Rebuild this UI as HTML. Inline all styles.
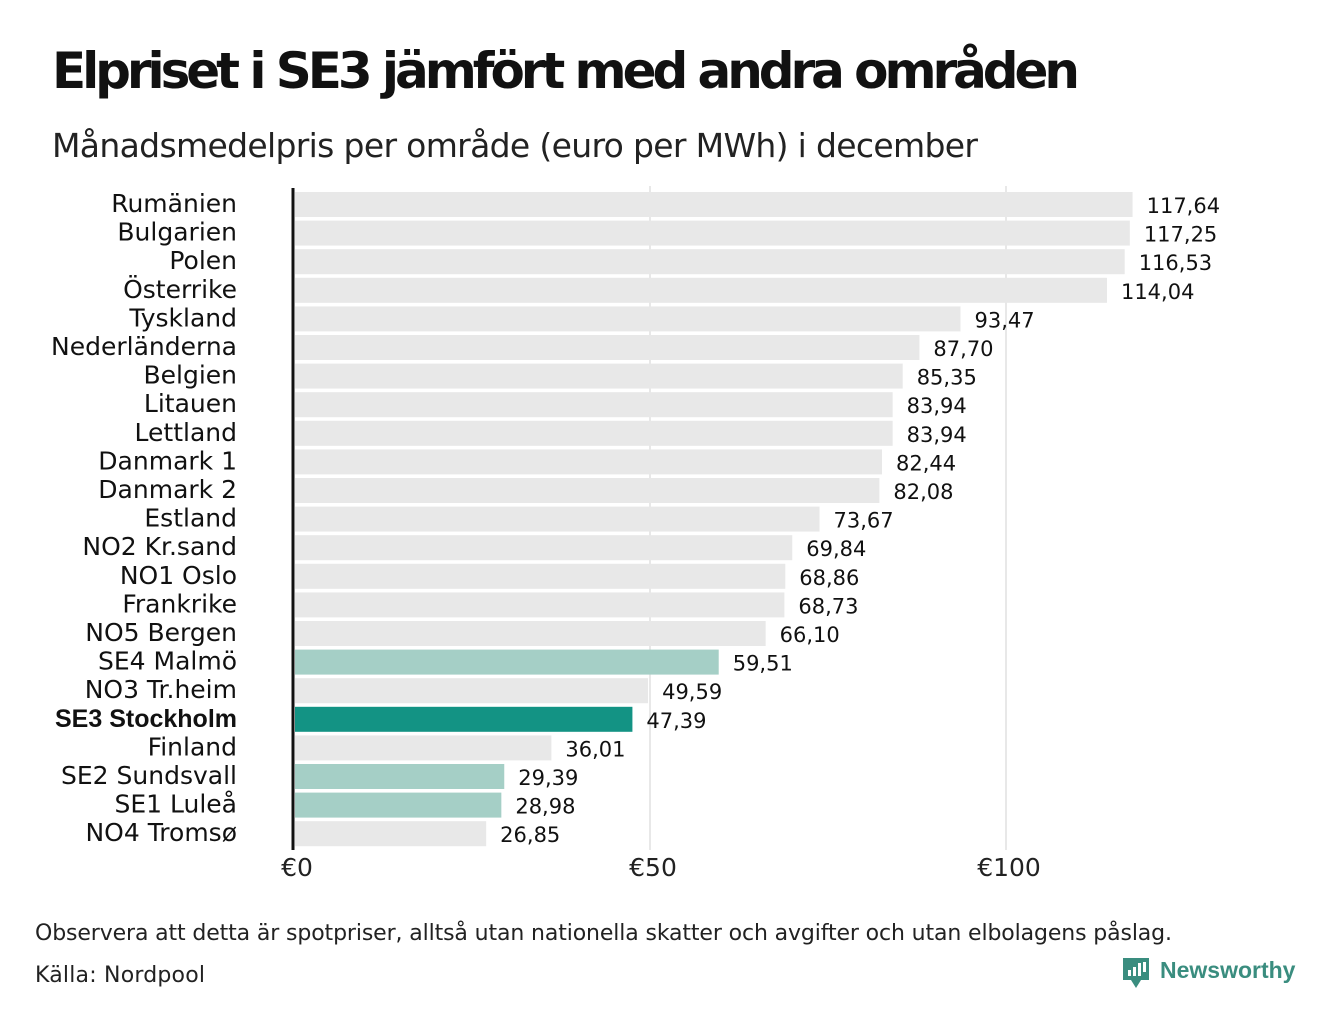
<!DOCTYPE html>
<html><head><meta charset="utf-8"><style>
body{margin:0;background:#fff;width:1340px;height:1020px;overflow:hidden;font-family:"Liberation Sans","DejaVu Sans",sans-serif}
</style></head><body>
<svg width="1340" height="1020" xmlns="http://www.w3.org/2000/svg">
<text x="52" y="88" font-size="50" font-weight="bold" fill="#111" font-family="DejaVu Sans, sans-serif" textLength="1028">Elpriset i SE3 jämfört med andra områden</text>
<text x="52" y="157" font-size="33" fill="#222" font-family="DejaVu Sans, sans-serif" textLength="926">Månadsmedelpris per område (euro per MWh) i december</text>
<g id="grid"></g>
<g id="bars"></g>
<line x1="293" y1="188" x2="293" y2="850" stroke="#111" stroke-width="3"/>
<g id="ticks"></g>
<text x="35" y="940" font-size="22" fill="#222" font-family="DejaVu Sans, sans-serif" textLength="1137">Observera att detta är spotpriser, alltså utan nationella skatter och avgifter och utan elbolagens påslag.</text>
<text x="35" y="982" font-size="22" fill="#222" font-family="DejaVu Sans, sans-serif" textLength="170">Källa: Nordpool</text>
<g>
<path d="M1123 958h26v22h-8l-5 8-5-8h-8z" fill="#3a8d7f"/>
<rect x="1128" y="970" width="3" height="6" fill="#fff"/><rect x="1133" y="967" width="3" height="9" fill="#fff"/><rect x="1138" y="963" width="3" height="13" fill="#fff"/><rect x="1143" y="962" width="3" height="10" fill="#fff"/>
<text x="1160" y="978" font-size="23" font-weight="bold" fill="#3a8d7f">Newsworthy</text>
</g>
</svg>
<script>
const categories=["Rumänien","Bulgarien","Polen","Österrike","Tyskland","Nederländerna","Belgien","Litauen","Lettland","Danmark  1","Danmark  2","Estland","NO2 Kr.sand","NO1 Oslo","Frankrike","NO5 Bergen","SE4 Malmö","NO3 Tr.heim","SE3 Stockholm","Finland","SE2 Sundsvall","SE1 Luleå","NO4 Tromsø"];
const values=[117.64,117.25,116.53,114.04,93.47,87.70,85.35,83.94,83.94,82.44,82.08,73.67,69.84,68.86,68.73,66.10,59.51,49.59,47.39,36.01,29.39,28.98,26.85];
const highlight=["none","none","none","none","none","none","none","none","none","none","none","none","none","none","none","none","se","none","main","none","se","se","none"];
const ticks=[0,50,100];
const tickLabels=["€0","€50","€100"];
const NS="http://www.w3.org/2000/svg";
const x=v=>295+v*7.12;
const yTop=i=>192+i*28.6;
const colors={none:"#e8e8e8",se:"#a5cfc6",main:"#139384"};
function mk(t,a,p){const e=document.createElementNS(NS,t);for(const k in a)e.setAttribute(k,a[k]);p.appendChild(e);return e;}
const grid=document.getElementById('grid'),bars=document.getElementById('bars'),tk=document.getElementById('ticks');
ticks.forEach((t,i)=>{
 if(t>0){const l=mk('line',{x1:x(t)-1,x2:x(t)-1,y1:186,y2:850,stroke:'#d0d0d0','stroke-width':1},grid);
 
 }
 const tx=mk('text',{x:x(t)+2,y:876,'font-size':25,fill:'#222','text-anchor':'middle','font-family':'DejaVu Sans, sans-serif'},tk);
 tx.textContent=tickLabels[i];
 
 
});
categories.forEach((c,i)=>{
 const y=yTop(i);
 const r=mk('rect',{x:295,y:y,width:x(values[i])-295,height:25,fill:colors[highlight[i]]},bars);
 
 
 const lb=mk('text',{x:237,y:y+20,'font-size':25,fill:'#111','text-anchor':'end','font-family':highlight[i]==='main'?'Liberation Sans, sans-serif':'DejaVu Sans, sans-serif','font-weight':highlight[i]==='main'?'bold':'normal'},bars);
 lb.textContent=c;
 
 
 const v=mk('text',{x:x(values[i])+14,y:y+21,'font-size':21,fill:'#111','font-family':'DejaVu Sans, sans-serif'},bars);
 v.textContent=values[i].toFixed(2).replace('.',',');
 
 
});
</script>
</body></html>
